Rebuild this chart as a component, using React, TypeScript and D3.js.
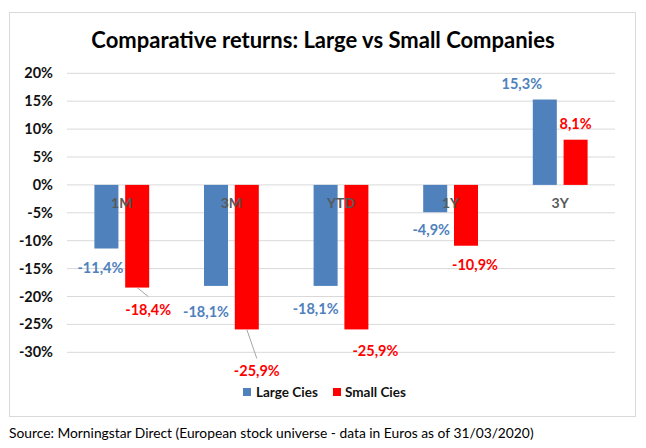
import React from 'react';
import * as d3 from 'd3';

const categories = ['1M', '3M', 'YTD', '1Y', '3Y'];
const seriesNames = ['Large Cies', 'Small Cies'];
const largeCies = [-11.4, -18.1, -18.1, -4.9, 15.3];
const smallCies = [-18.4, -25.9, -25.9, -10.9, 8.1];
const yTicks = [20, 15, 10, 5, 0, -5, -10, -15, -20, -25, -30];

const colors = ['#4F81BD', '#FF0000'];

// manual label nudges (Excel had these dragged around)
const nudges: { dx: number; dy: number; leader?: boolean }[][] = [
  [
    { dx: -6, dy: 19 },
    { dx: -10, dy: 26 },
    { dx: -10, dy: 23 },
    { dx: -4, dy: 18 },
    { dx: -23, dy: -16 },
  ],
  [
    { dx: 11, dy: 22, leader: true },
    { dx: 10, dy: 42, leader: true },
    { dx: 19, dy: 22 },
    { dx: 9, dy: 19 },
    { dx: 0, dy: -16 },
  ],
];

const W = 646;
const H = 448;
const FONT = 'Lato, "Open Sans", sans-serif';

const fmt = (v: number) => v.toFixed(1).replace('.', ',') + '%';

export default function App() {
  document.body.style.margin = '0';
  const left = 67;
  const right = 615;

  const x0 = d3.scaleBand<string>().domain(categories).range([left, right]).paddingInner(0.5).paddingOuter(0.25);
  const x1 = d3.scaleBand<string>().domain(seriesNames).range([0, x0.bandwidth()]).paddingInner(0.22);
  const y = d3.scaleLinear().domain([-30, 20]).range([352.3, 73.3]);

  const series = [largeCies, smallCies];

  return (
    <svg width={W} height={H} style={{ display: 'block' }} fontFamily={FONT}>
      <rect x={0} y={0} width={W} height={H} fill="#fff" />
      <rect x={9.5} y={12.5} width={626} height={404} fill="#fff" stroke="#D9D9D9" />

      <text x={323} y={48} textAnchor="middle" fontSize={22} fontWeight={700} fill="#000">
        Comparative returns: Large vs Small Companies
      </text>

      {yTicks.map(t => (
        <g key={t}>
          <line x1={left} x2={right} y1={y(t)} y2={y(t)} stroke="#D9D9D9" strokeWidth={1} />
          <text x={53} y={y(t)} dy="0.35em" textAnchor="end" fontSize={14.5} fontWeight={700} fill="#111">
            {t}%
          </text>
        </g>
      ))}

      {series.map((vals, si) => (
        <g key={si}>
          {vals.map((v, i) => {
            const bx = (x0(categories[i]) ?? 0) + (x1(seriesNames[si]) ?? 0);
            return (
              <rect
                key={i}
                x={bx}
                y={Math.min(y(v), y(0))}
                width={x1.bandwidth()}
                height={Math.abs(y(v) - y(0))}
                fill={colors[si]}
              />
            );
          })}
        </g>
      ))}

      {categories.map(c => (
        <text key={c} x={(x0(c) ?? 0) + x0.bandwidth() / 2} y={203} dy="0.35em" textAnchor="middle" fontSize={14} fontWeight={700} fill="#595959">
          {c}
        </text>
      ))}

      {series.map((vals, si) => (
        <g key={`l${si}`}>
          {vals.map((v, i) => {
            const cx = (x0(categories[i]) ?? 0) + (x1(seriesNames[si]) ?? 0) + x1.bandwidth() / 2;
            const end = y(v);
            const n = nudges[si][i];
            const lx = cx + n.dx;
            const ly = end + n.dy;
            return (
              <g key={i}>
                {n.leader && <line x1={cx} y1={end} x2={lx} y2={ly - 13} stroke="#A6A6A6" strokeWidth={1} />}
                <text x={lx} y={ly} dy="0.35em" textAnchor="middle" fontSize={14.5} fontWeight={700} fill={colors[si]}>
                  {fmt(v)}
                </text>
              </g>
            );
          })}
        </g>
      ))}

      {/* legend */}
      <rect x={243} y={388} width={8} height={8} fill={colors[0]} />
      <text x={256} y={392} dy="0.35em" fontSize={13.5} fontWeight={700} fill="#111">{seriesNames[0]}</text>
      <rect x={333} y={388} width={8} height={8} fill={colors[1]} />
      <text x={345} y={392} dy="0.35em" fontSize={13.5} fontWeight={700} fill="#111">{seriesNames[1]}</text>

      <text x={9} y={433} dy="0.35em" fontSize={13.8} fill="#000">
        Source: Morningstar Direct (European stock universe - data in Euros as of 31/03/2020)
      </text>
    </svg>
  );
}
